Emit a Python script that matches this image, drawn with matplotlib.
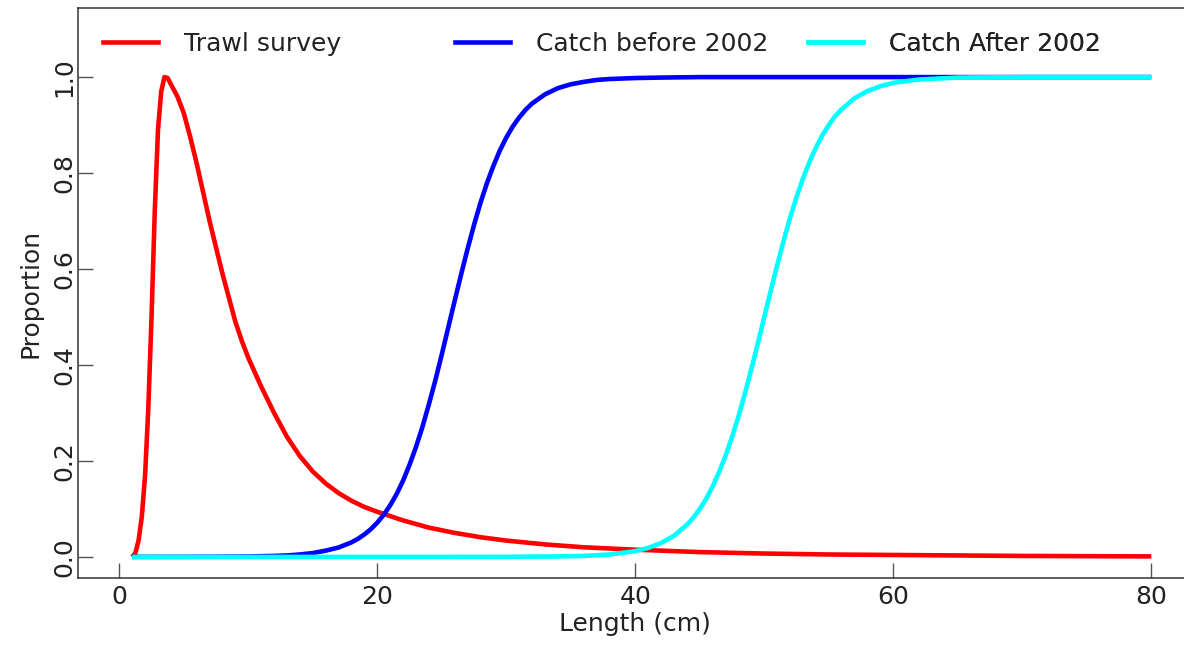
import matplotlib
matplotlib.use("Agg")
import matplotlib.pyplot as plt
from matplotlib.lines import Line2D

plt.rcParams['font.family'] = ['DejaVu Sans']

# proportion available to the trawl survey, by length (cm)
trawl_len = [1, 1.25, 1.5, 1.75, 2, 2.25, 2.5, 2.75, 3, 3.25, 3.5, 3.75, 4, 4.5, 5, 5.5, 6, 6.5,
             7, 7.5, 8, 8.5, 9, 9.5, 10, 11, 12, 13, 14, 15, 16, 17, 18, 19, 20, 22, 24, 26, 28,
             30, 33, 36, 40, 45, 50, 55, 60, 70, 80]
trawl_prop = [0.0, 0.008, 0.035, 0.085, 0.17, 0.31, 0.50, 0.72, 0.89, 0.97, 1.0, 0.998, 0.985,
              0.96, 0.925, 0.875, 0.82, 0.76, 0.70, 0.645, 0.59, 0.54, 0.49, 0.45, 0.415, 0.355,
              0.30, 0.25, 0.21, 0.178, 0.153, 0.133, 0.117, 0.104, 0.094, 0.076, 0.061, 0.05,
              0.041, 0.034, 0.026, 0.02, 0.015, 0.01, 0.007, 0.005, 0.004, 0.002, 0.001]

# fishery selectivity before 2002
before_len = [1, 5, 8, 10, 12, 13, 14, 15, 16, 17, 18, 18.5, 19, 19.5, 20, 20.5, 21, 21.5, 22,
              22.5, 23, 23.5, 24, 24.5, 25, 25.5, 26, 26.5, 27, 27.5, 28, 28.5, 29, 29.5, 30,
              30.5, 31, 31.5, 32, 33, 34, 35, 36, 37, 38, 40, 42, 45, 50, 60, 70, 80]
before_prop = [0.0, 0.0001, 0.0004, 0.0009, 0.002, 0.003, 0.005, 0.008, 0.013, 0.0196, 0.0303,
               0.0377, 0.0468, 0.0578, 0.0714, 0.0879, 0.1076, 0.131, 0.159, 0.192, 0.229,
               0.271, 0.318, 0.368, 0.422, 0.478, 0.534, 0.589, 0.642, 0.692, 0.738, 0.779,
               0.815, 0.847, 0.874, 0.897, 0.916, 0.932, 0.945, 0.964, 0.977, 0.985, 0.990,
               0.994, 0.996, 0.998, 0.999, 1.0, 1.0, 1.0, 1.0, 1.0]

# fishery selectivity after 2002
after_len = [1, 20, 30, 34, 36, 38, 40, 41, 42, 43, 44, 44.5, 45, 45.5, 46, 46.5, 47, 47.5, 48,
             48.5, 49, 49.5, 50, 50.5, 51, 51.5, 52, 52.5, 53, 53.5, 54, 54.5, 55, 55.5, 56, 57,
             58, 59, 60, 62, 65, 70, 80]
after_prop = [0.0, 0.0, 0.0002, 0.0009, 0.002, 0.005, 0.012, 0.0187, 0.029, 0.044, 0.067, 0.0816,
              0.100, 0.121, 0.147, 0.177, 0.211, 0.25, 0.293, 0.341, 0.392, 0.445, 0.5, 0.555,
              0.608, 0.659, 0.707, 0.75, 0.789, 0.823, 0.853, 0.879, 0.900, 0.919, 0.933, 0.956,
              0.971, 0.981, 0.988, 0.995, 0.999, 1.0, 1.0]

labels = ['Trawl survey', 'Catch before 2002', 'Catch After 2002']
colors = ['#ff0000', '#0000ff', '#00ffff']
FS = 18

fig = plt.figure(figsize=(11.84, 6.48), dpi=100)
ax = fig.add_axes([78 / 1184, 70 / 648, 1114.6 / 1184, 570 / 648])

series = [(trawl_len, trawl_prop), (before_len, before_prop), (after_len, after_prop)]
for (x, y), c in zip(series, colors):
    ax.plot(x, y, color=c, lw=3.3, solid_capstyle='butt', solid_joinstyle='round')

ax.set_xlim(-3.2, 83.2)
ax.set_ylim(-0.044, 1.144)
ax.set_xticks([0, 20, 40, 60, 80])
ax.set_yticks([0.0, 0.2, 0.4, 0.6, 0.8, 1.0])
ax.set_yticklabels(['0.0', '0.2', '0.4', '0.6', '0.8', '1.0'], rotation=90, va='center')
ax.tick_params(direction='in', length=11, width=1, labelsize=FS, color='#555555',
               labelcolor='#222222')
ax.tick_params(axis='x', pad=5)
ax.tick_params(axis='y', pad=1.5)
for s in ax.spines.values():
    s.set_color('#333333')
    s.set_linewidth(1.1)

ax.set_xlabel('Length (cm)', fontsize=FS, labelpad=2, color='#222222')
ax.set_ylabel('Proportion', fontsize=FS, labelpad=7, color='#222222')

# legend keys spread evenly across the top, one small legend per entry
for lab, c, xa in zip(labels, colors, [0.0224, 0.338, 0.655]):
    h = Line2D([], [], color=c, lw=3.3)
    leg = ax.legend([h], [lab], loc='center left', bbox_to_anchor=(xa, 0.937),
                    frameon=False, fontsize=FS, handlelength=2.2, handletextpad=1.05,
                    borderpad=0, borderaxespad=0, labelcolor='#222222')
    ax.add_artist(leg)

fig.savefig('out.png', dpi=100)
